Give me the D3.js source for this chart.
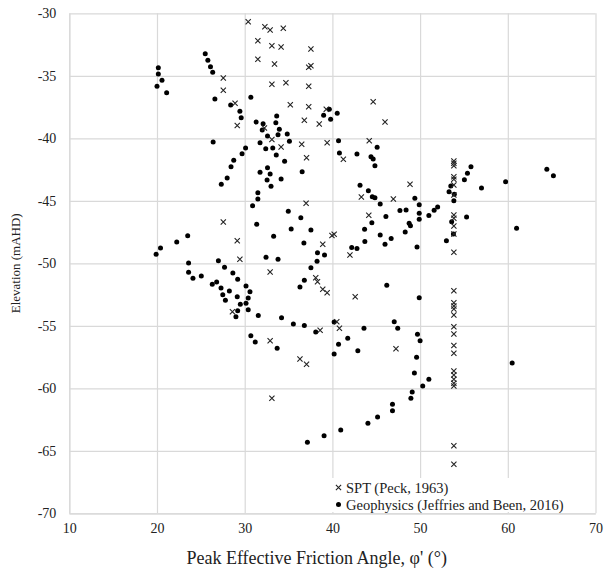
<!DOCTYPE html>
<html><head><meta charset="utf-8">
<script src="https://cdn.jsdelivr.net/npm/d3@7"></script>
<style>body{margin:0;background:#fff}svg{display:block}</style>
</head><body>
<svg id="chart" width="606" height="570"></svg>
<script>
const xTicks = [10, 20, 30, 40, 50, 60, 70];
const yTicks = [-30, -35, -40, -45, -50, -55, -60, -65, -70];
const xTitle = "Peak Effective Friction Angle, φ' (°)";
const yTitle = "Elevation (mAHD)";
const legendLabels = ["SPT (Peck, 1963)", "Geophysics (Jeffries and Been, 2016)"];

// SPT (Peck, 1963) — crosses
const sptPhi = [30.4,32.3,32.9,34.4,31.5,33.1,34.15,37.55,31.5,33.4,37.3,37.55,27.56,34.7,33.1,37.3,27.56,28.9,35.2,37.3,
  29.15,36.8,38.5,32.25,33.1,34.15,36.5,37.05,39.3,44.65,46.0,39.4,41.25,44.2,48.85,46.95,43.3,37.0,44.15,27.56,
  29.15,29.45,32.9,39.95,40.2,38.9,42.0,38.1,38.3,38.9,39.4,42.6,28.6,32.9,38.6,40.5,40.8,36.3,37.05,33.1,47.25,
  53.85,53.85,53.85,53.85,53.85,53.85,53.85,53.85,53.85,53.85,53.85,53.85,53.85,53.85,53.85,53.85,53.85,53.85,53.85,53.85,
  53.85,53.85,53.85,53.85,53.85,53.85,53.85,53.85];
const sptElev = [-30.67,-31.07,-31.34,-31.2,-32.19,-32.59,-32.7,-32.86,-33.68,-34.06,-34.32,-34.19,-35.18,-35.55,-35.68,-35.84,-36.16,-37.2,-37.31,-37.47,
  -38.98,-38.56,-38.86,-39.18,-40.1,-40.7,-40.48,-41.56,-37.68,-37.08,-38.7,-40.35,-41.68,-40.19,-43.68,-44.86,-44.7,-45.2,-46.16,-46.7,
  -48.19,-49.68,-50.7,-47.78,-47.68,-48.48,-49.34,-51.15,-51.47,-52.08,-52.35,-52.67,-53.87,-56.19,-55.36,-54.67,-55.2,-57.66,-58.08,-60.8,-56.83,
  -41.82,-42.0,-42.19,-43.07,-43.28,-43.74,-44.54,-46.14,-46.4,-47.02,-47.66,-49.12,-52.19,-53.15,-53.42,-53.66,-54.14,-55.07,-55.66,-56.58,
  -57.2,-58.62,-58.94,-59.28,-59.6,-59.82,-64.59,-66.08];

// Geophysics (Jeffries and Been, 2016) — dots
const geoPhi = [20.15,20.15,20.57,20.0,21.1,20.4,19.9,25.5,25.8,26.1,26.35,26.6,26.4,28.4,30.7,29.45,29.6,31.3,32.1,32.0,
  33.65,33.55,33.95,32.6,33.8,34.85,35.1,31.75,32.4,33.2,33.6,34.55,30.1,29.7,28.75,28.44,28.0,27.33,31.75,32.6,
  32.9,32.55,33.0,34.15,36.55,31.5,31.5,30.9,31.37,34.97,36.4,35.3,37.55,33.3,36.75,38.3,39.1,38.25,37.55,36.8,
  36.3,32.43,33.8,23.5,22.25,23.6,23.6,24.1,25.05,27.0,27.7,28.65,29.2,26.3,26.8,27.3,27.5,28.25,27.8,29.15,
  30.15,30.6,30.4,30.15,29.5,29.2,29.0,30.4,31.55,34.2,35.55,36.8,38.1,30.7,31.2,33.7,39.65,39.0,39.8,40.55,
  40.7,40.8,42.8,44.4,44.65,44.85,45.1,43.15,44.1,44.55,44.85,45.45,44.5,43.67,43.7,42.2,42.8,49.4,49.9,49.9,
  49.9,47.7,48.4,46.1,51.0,51.6,52.0,48.75,48.9,48.3,45.45,46.7,46.0,49.65,53.5,53.3,53.9,53.85,55.05,55.4,
  55.8,57.0,59.75,64.45,65.2,55.3,53.6,53.8,53.0,61.0,60.5,46.2,49.9,47.05,47.45,49.7,50.0,49.6,49.35,51.0,
  50.3,49.1,48.95,46.85,46.85,45.15,44.05,40.95,39.05,37.15,40.2,43.6,41.75,42.9,40.7,40.2];
const geoElev = [-34.35,-34.86,-35.36,-35.84,-36.35,-48.78,-49.28,-33.23,-33.76,-34.27,-34.72,-36.86,-40.3,-37.34,-36.72,-37.84,-38.35,-38.7,-38.83,-39.34,
  -38.22,-38.75,-39.28,-39.82,-39.71,-39.66,-40.24,-40.35,-40.83,-40.78,-41.34,-41.84,-40.78,-41.23,-41.76,-42.27,-43.18,-43.68,-42.72,-42.35,
  -42.86,-43.34,-43.84,-43.26,-42.67,-44.35,-44.86,-45.39,-46.88,-45.84,-46.35,-47.26,-47.34,-47.84,-48.38,-49.15,-49.34,-49.84,-50.35,-51.36,
  -51.9,-49.52,-49.68,-47.79,-48.3,-49.98,-50.72,-51.2,-51.02,-49.79,-50.32,-50.78,-51.28,-51.68,-51.5,-51.98,-52.51,-52.22,-52.96,-52.67,
  -51.82,-52.27,-52.78,-53.2,-53.28,-53.79,-54.27,-53.71,-54.18,-54.35,-54.86,-54.98,-55.5,-55.79,-56.3,-56.8,-37.68,-38.16,-38.48,-38.0,
  -40.19,-41.18,-41.26,-41.47,-41.66,-42.19,-40.72,-43.76,-44.19,-44.67,-44.75,-45.26,-46.75,-47.28,-48.26,-48.74,-48.82,-44.8,-45.31,-46.0,
  -46.48,-45.78,-45.74,-46.26,-46.18,-45.76,-45.5,-46.79,-47.0,-47.5,-47.74,-48.02,-48.48,-48.7,-43.82,-44.27,-44.48,-44.99,-43.31,-42.8,
  -42.27,-43.98,-43.47,-42.48,-42.99,-46.3,-46.67,-47.66,-48.19,-47.2,-57.98,-51.76,-52.75,-54.67,-55.2,-55.68,-56.19,-57.52,-58.78,-59.28,
  -59.82,-60.3,-60.8,-61.28,-61.79,-62.3,-62.8,-63.34,-63.79,-64.32,-54.7,-55.2,-56.0,-56.99,-56.48,-57.26];

const font = "'Liberation Serif','Times New Roman',serif";
const gridColor = "#d9d9d9";
const svg = d3.select("#chart");
const x = d3.scaleLinear().domain([10, 70]).range([69.3, 595.5]);
const y = d3.scaleLinear().domain([-70, -30]).range([513.3, 13.3]);
const W = x(70) - x(10), H = y(-70) - y(-30);

// Y axis + horizontal grid
const gy = svg.append("g").attr("transform", `translate(${x(10)},0)`)
  .call(d3.axisLeft(y).tickValues(yTicks).tickFormat(d => String(d)).tickSize(-W).tickSizeOuter(0).tickPadding(13));
// X axis + vertical grid
const gx = svg.append("g").attr("transform", `translate(0,${y(-70)})`)
  .call(d3.axisBottom(x).tickValues(xTicks).tickFormat(d => String(d)).tickSize(-H).tickSizeOuter(0).tickPadding(10));
[gx, gy].forEach(g => {
  g.selectAll("line").attr("stroke", gridColor).attr("stroke-width", 1.2);
  g.select(".domain").attr("stroke", gridColor).attr("stroke-width", 1.2);
  g.selectAll("text").attr("font-family", font).attr("font-size", 14).attr("fill", "#222");
});

// Axis titles
svg.append("text").attr("x", 316.7).attr("y", 564).attr("text-anchor", "middle")
  .attr("font-family", font).attr("font-size", 18).attr("fill", "#222").text(xTitle);
svg.append("text").attr("transform", `translate(20,${(y(-30) + y(-70)) / 2}) rotate(-90)`).attr("text-anchor", "middle")
  .attr("font-family", font).attr("font-size", 13).attr("fill", "#222").text(yTitle);

// Legend background
svg.append("rect").attr("x", 330).attr("y", 478).attr("width", 262).attr("height", 34).attr("fill", "#fff");

const crossPath = "M-2.6,-2.6L2.6,2.6M-2.6,2.6L2.6,-2.6";
// Geophysics dots
svg.append("g").selectAll("circle").data(d3.range(geoPhi.length)).join("circle")
  .attr("cx", i => x(geoPhi[i])).attr("cy", i => y(geoElev[i])).attr("r", 2.5).attr("fill", "#000");
// SPT crosses
svg.append("g").selectAll("path").data(d3.range(sptPhi.length)).join("path")
  .attr("transform", i => `translate(${x(sptPhi[i])},${y(sptElev[i])})`)
  .attr("d", crossPath).attr("stroke", "#222").attr("stroke-width", 1.1).attr("fill", "none");

// Legend
const legendRows = [487.5, 504.5];
const lg = svg.append("g").attr("font-family", font).attr("font-size", 14.5).attr("fill", "#222");
lg.append("path").attr("transform", `translate(338.5,${legendRows[0]})`).attr("d", crossPath).attr("stroke", "#222").attr("stroke-width", 1.1);
lg.append("circle").attr("cx", 338.5).attr("cy", legendRows[1]).attr("r", 2.5).attr("fill", "#000");
lg.append("text").attr("x", 346).attr("y", legendRows[0]).attr("dy", "0.35em").text(legendLabels[0]);
lg.append("text").attr("x", 346).attr("y", legendRows[1]).attr("dy", "0.35em").text(legendLabels[1]);
</script>
</body></html>
